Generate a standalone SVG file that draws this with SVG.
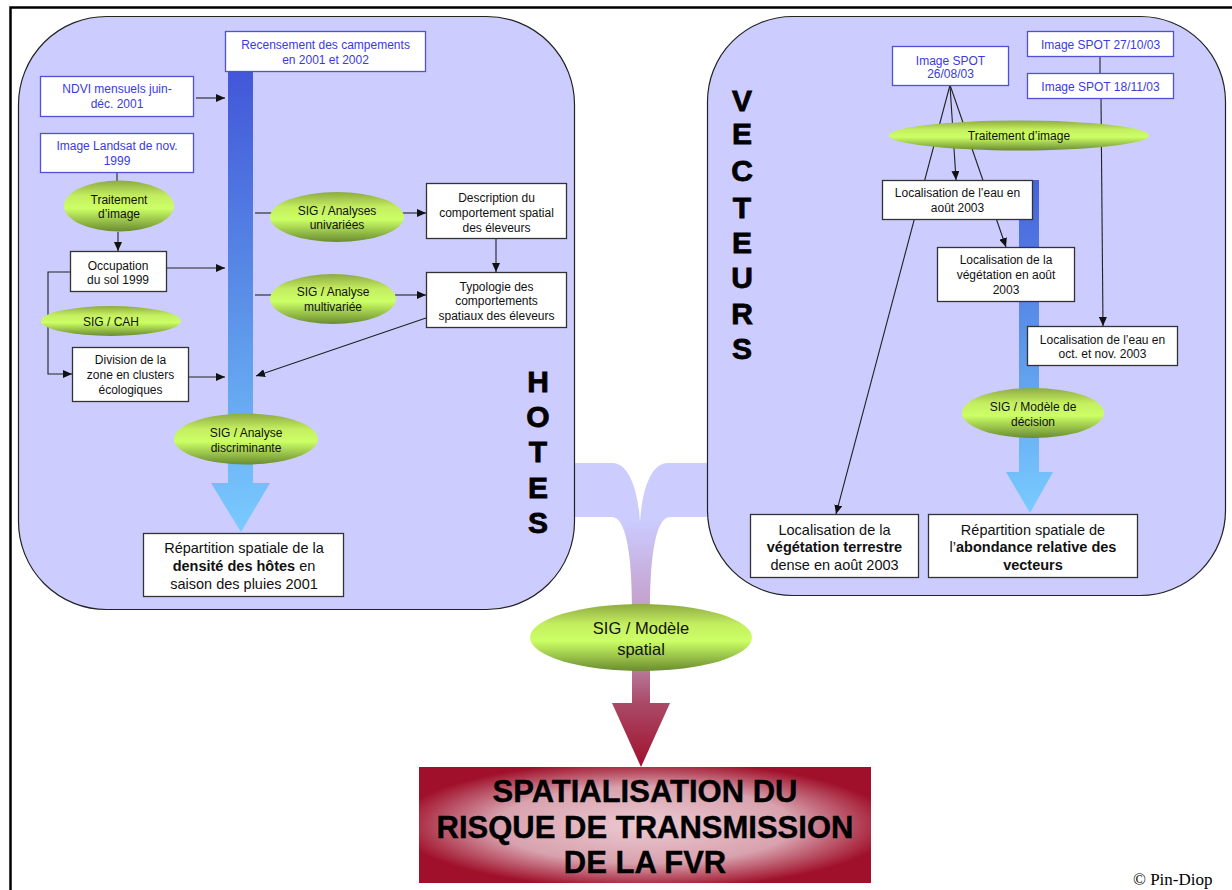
<svg xmlns="http://www.w3.org/2000/svg" width="1232" height="890" viewBox="0 0 1232 890">
<style>
.t{font-family:"Liberation Sans",Arial,sans-serif;font-size:12px;fill:#111;text-anchor:middle}
.tl{font-family:"Liberation Sans",Arial,sans-serif;font-size:16.5px;fill:#111;text-anchor:middle}
.tb{font-family:"Liberation Sans",Arial,sans-serif;font-size:12px;fill:#3a3ae0;text-anchor:middle}
.tm{font-family:"Liberation Sans",Arial,sans-serif;font-size:14.5px;fill:#111;text-anchor:middle}
.big{font-family:"Liberation Sans",Arial,sans-serif;font-size:30px;font-weight:bold;fill:#000;stroke:#000;stroke-width:0.8;text-anchor:middle}
.title{font-family:"Liberation Sans",Arial,sans-serif;font-size:31px;font-weight:bold;fill:#000;stroke:#000;stroke-width:0.4;text-anchor:middle}
.bx{fill:#fff;stroke:#333;stroke-width:1.3}
.bb{fill:#fff;stroke:#5050d8;stroke-width:1.3}
.ell{fill:url(#green)}
.panel{fill:#ccccff;stroke:#222;stroke-width:1.2}
.ln{fill:none;stroke:#222;stroke-width:1.1}
.ar{fill:none;stroke:#222;stroke-width:1.1;marker-end:url(#arr)}
</style>
<defs>
<marker id="arr" viewBox="0 0 9 8" refX="9" refY="4" markerWidth="9" markerHeight="8" markerUnits="userSpaceOnUse" orient="auto">
<path d="M0,0 L9,4 L0,8 z" fill="#111"/>
</marker>
<linearGradient id="green" x1="0" y1="0" x2="0" y2="1">
<stop offset="0" stop-color="#8eaa42"/>
<stop offset="0.3" stop-color="#c4ee60"/>
<stop offset="0.55" stop-color="#ccff66"/>
<stop offset="1" stop-color="#6a8c30"/>
</linearGradient>
<linearGradient id="blueL" gradientUnits="userSpaceOnUse" x1="220" y1="71" x2="275" y2="532">
<stop offset="0" stop-color="#4256d8"/>
<stop offset="0.5" stop-color="#5a90e8"/>
<stop offset="1" stop-color="#7accff"/>
</linearGradient>
<linearGradient id="blueR" gradientUnits="userSpaceOnUse" x1="1010" y1="180" x2="1050" y2="513">
<stop offset="0" stop-color="#4660dc"/>
<stop offset="0.5" stop-color="#5c98ea"/>
<stop offset="1" stop-color="#7accff"/>
</linearGradient>
<linearGradient id="band" gradientUnits="userSpaceOnUse" x1="0" y1="463" x2="0" y2="605">
<stop offset="0" stop-color="#ccccff"/>
<stop offset="0.4" stop-color="#ccccff"/>
<stop offset="1" stop-color="#c4a0cc"/>
</linearGradient>
<linearGradient id="red" gradientUnits="userSpaceOnUse" x1="0" y1="660" x2="0" y2="767">
<stop offset="0" stop-color="#bc88aa"/>
<stop offset="0.4" stop-color="#aa4a68"/>
<stop offset="1" stop-color="#a0102c"/>
</linearGradient>
<radialGradient id="box" cx="0.5" cy="0.5" r="0.55">
<stop offset="0" stop-color="#eccad2"/>
<stop offset="0.6" stop-color="#d8a2ae"/>
<stop offset="1" stop-color="#a0102a"/>
</radialGradient>
</defs>

<rect width="1232" height="890" fill="#fff"/>
<path d="M10.5,890 L10.5,7.5 L1232,7.5" fill="none" stroke="#000" stroke-width="2.5"/>

<g id="merge-band">
<path d="M570,463 L612,463 C630,463 638,492 640,522 C642,492 650,463 668,463 L711,463 L711,517 L670,517 C657,517 650,550 650,610 L632,610 C632,550 625,517 612,517 L570,517 Z" fill="url(#band)"/>
</g>

<g id="panel-hotes"><rect class="panel" x="18.5" y="16.5" width="556" height="593" rx="88" ry="88"/></g>
<g id="panel-vecteurs"><rect class="panel" x="707.5" y="16.5" width="518" height="579" rx="85" ry="85"/></g>

<g id="bar-left"><path d="M228,71 L253,71 L253,483 L270,483 L241,532 L211,483 L228,483 Z" fill="url(#blueL)"/></g>
<g id="bar-right"><path d="M1019,180 L1039,180 L1039,472 L1053,472 L1030,513 L1006,472 L1019,472 Z" fill="url(#blueR)"/></g>

<g id="red-arrow"><path d="M632,660 L650,660 L650,703 L670,703 L641,767 L612,703 L632,703 Z" fill="url(#red)"/></g>

<g id="connectors">
<line class="ar" x1="196" y1="98" x2="225" y2="98"/>
<line class="ln" x1="117" y1="172" x2="117" y2="182"/>
<line class="ar" x1="118" y1="232" x2="118" y2="251"/>
<line class="ar" x1="166" y1="268" x2="225" y2="268"/>
<polyline class="ar" points="70,272 48,272 48,374 72,374"/>
<line class="ar" x1="188" y1="377" x2="225" y2="377"/>
<line class="ar" x1="426" y1="318" x2="256" y2="376"/>
<line class="ln" x1="255" y1="213" x2="272" y2="213"/>
<line class="ar" x1="402" y1="213" x2="426" y2="213"/>
<line class="ln" x1="255" y1="295" x2="272" y2="295"/>
<line class="ar" x1="395" y1="295" x2="426" y2="295"/>
<line class="ar" x1="496" y1="238" x2="496" y2="272"/>
<line class="ln" x1="1100" y1="56" x2="1100" y2="73"/>
<line class="ar" x1="1101" y1="98" x2="1103" y2="326"/>
<line class="ar" x1="950" y1="85" x2="836" y2="514"/>
<line class="ar" x1="950" y1="85" x2="956" y2="180"/>
<line class="ar" x1="950" y1="85" x2="1006" y2="247"/>
</g>

<g id="hotes-label">
<text class="big" x="538" y="392">H</text>
<text class="big" x="538" y="427">O</text>
<text class="big" x="538" y="462">T</text>
<text class="big" x="538" y="498">E</text>
<text class="big" x="538" y="533">S</text>
</g>
<g id="vecteurs-label">
<text class="big" x="742" y="111">V</text>
<text class="big" x="742" y="144">E</text>
<text class="big" x="742" y="181">C</text>
<text class="big" x="742" y="218">T</text>
<text class="big" x="742" y="253">E</text>
<text class="big" x="742" y="288">U</text>
<text class="big" x="742" y="324">R</text>
<text class="big" x="742" y="359">S</text>
</g>

<g id="n-recensement"><rect class="bb" x="225.5" y="31.5" width="200" height="40"/>
<text class="tb" x="325.5" y="48.5">Recensement des campements</text><text class="tb" x="325.5" y="63.5">en 2001 et 2002</text></g>
<g id="n-ndvi"><rect class="bb" x="40.5" y="76.5" width="153" height="40"/>
<text class="tb" x="117" y="93">NDVI mensuels juin-</text><text class="tb" x="117" y="108">déc. 2001</text></g>
<g id="n-landsat"><rect class="bb" x="40.5" y="133.5" width="153" height="39"/>
<text class="tb" x="117" y="150">Image Landsat de nov.</text><text class="tb" x="117" y="165">1999</text></g>
<g id="n-traitement1"><ellipse class="ell" cx="119" cy="206" rx="55" ry="25.5"/>
<text class="t" x="119" y="203.5">Traitement</text><text class="t" x="119" y="218">d’image</text></g>
<g id="n-occupation"><rect class="bx" x="70.5" y="251.5" width="96" height="40"/>
<text class="t" x="118" y="269.5">Occupation</text><text class="t" x="118" y="284">du sol 1999</text></g>
<g id="n-cah"><ellipse class="ell" cx="111" cy="321" rx="70" ry="15"/>
<text class="t" x="111" y="325.5">SIG / CAH</text></g>
<g id="n-division"><rect class="bx" x="72.5" y="347.5" width="116" height="54"/>
<text class="t" x="130.5" y="364">Division de la</text><text class="t" x="130.5" y="379">zone en clusters</text><text class="t" x="130.5" y="394">écologiques</text></g>
<g id="n-univariees"><ellipse class="ell" cx="337" cy="217" rx="67" ry="25"/>
<text class="t" x="337" y="215">SIG / Analyses</text><text class="t" x="337" y="229">univariées</text></g>
<g id="n-multivariee"><ellipse class="ell" cx="333" cy="299" rx="63" ry="25"/>
<text class="t" x="333" y="296">SIG / Analyse</text><text class="t" x="333" y="311">multivariée</text></g>
<g id="n-description"><rect class="bx" x="426.5" y="183.5" width="140" height="55"/>
<text class="t" x="496.5" y="201.5">Description du</text><text class="t" x="496.5" y="216.5">comportement spatial</text><text class="t" x="496.5" y="231.5">des éleveurs</text></g>
<g id="n-typologie"><rect class="bx" x="426.5" y="272.5" width="140" height="55"/>
<text class="t" x="496.5" y="290.5">Typologie des</text><text class="t" x="496.5" y="305">comportements</text><text class="t" x="496.5" y="319.5">spatiaux des éleveurs</text></g>
<g id="n-discriminante"><ellipse class="ell" cx="246" cy="439" rx="72" ry="25.5"/>
<text class="t" x="246" y="437">SIG / Analyse</text><text class="t" x="246" y="452">discriminante</text></g>
<g id="n-repartition-hotes"><rect class="bx" x="143.5" y="533.5" width="200" height="63"/>
<text class="tm" x="244" y="553">Répartition spatiale de la</text>
<text class="tm" x="244" y="571"><tspan font-weight="bold">densité des hôtes</tspan> en</text>
<text class="tm" x="244" y="588.5">saison des pluies 2001</text></g>

<g id="n-spot2608"><rect class="bb" x="892.5" y="46.5" width="116" height="39"/>
<text class="tb" x="950.5" y="64.5">Image SPOT</text><text class="tb" x="950.5" y="78">26/08/03</text></g>
<g id="n-spot2710"><rect class="bb" x="1027.5" y="31.5" width="146" height="25"/>
<text class="tb" x="1100.5" y="48.5">Image SPOT 27/10/03</text></g>
<g id="n-spot1811"><rect class="bb" x="1027.5" y="73.5" width="146" height="25"/>
<text class="tb" x="1100.5" y="91">Image SPOT 18/11/03</text></g>
<g id="n-traitement2"><ellipse class="ell" cx="1019" cy="135.5" rx="130" ry="15"/>
<text class="t" x="1019" y="140">Traitement d’image</text></g>
<g id="n-eau-aout"><rect class="bx" x="882.5" y="180.5" width="150" height="39"/>
<text class="t" x="957.5" y="197">Localisation de l’eau en</text><text class="t" x="957.5" y="211.5">août 2003</text></g>
<g id="n-veg-aout"><rect class="bx" x="937.5" y="247.5" width="137" height="54"/>
<text class="t" x="1006" y="264">Localisation de la</text><text class="t" x="1006" y="279">végétation en août</text><text class="t" x="1006" y="294">2003</text></g>
<g id="n-eau-oct"><rect class="bx" x="1027.5" y="326.5" width="150" height="39"/>
<text class="t" x="1102.5" y="344">Localisation de l’eau en</text><text class="t" x="1102.5" y="358">oct. et nov. 2003</text></g>
<g id="n-decision"><ellipse class="ell" cx="1033" cy="413" rx="71" ry="25"/>
<text class="t" x="1033" y="411">SIG / Modèle de</text><text class="t" x="1033" y="426">décision</text></g>
<g id="n-veg-terrestre"><rect class="bx" x="750.5" y="514.5" width="168" height="63"/>
<text class="tm" x="834.5" y="534.5">Localisation de la</text>
<text class="tm" x="834.5" y="552" font-weight="bold">végétation terrestre</text>
<text class="tm" x="834.5" y="569.5">dense en août 2003</text></g>
<g id="n-abondance"><rect class="bx" x="928.5" y="514.5" width="209" height="63"/>
<text class="tm" x="1033" y="534.5">Répartition spatiale de</text>
<text class="tm" x="1033" y="552">l’<tspan font-weight="bold">abondance relative des</tspan></text>
<text class="tm" x="1033" y="569.5" font-weight="bold">vecteurs</text></g>

<g id="n-modele-spatial"><ellipse class="ell" cx="641" cy="637.5" rx="111" ry="33.5"/>
<text class="tl" x="641" y="634">SIG / Modèle</text><text class="tl" x="641" y="655">spatial</text></g>

<g id="n-final"><rect x="419" y="767" width="452" height="116" fill="url(#box)"/>
<text class="title" x="645" y="802">SPATIALISATION DU</text>
<text class="title" x="645" y="838">RISQUE DE TRANSMISSION</text>
<text class="title" x="645" y="873">DE LA FVR</text></g>

<text x="1133" y="885" font-family="'Liberation Serif',serif" font-size="17px" fill="#000">© Pin-Diop</text>
</svg>
